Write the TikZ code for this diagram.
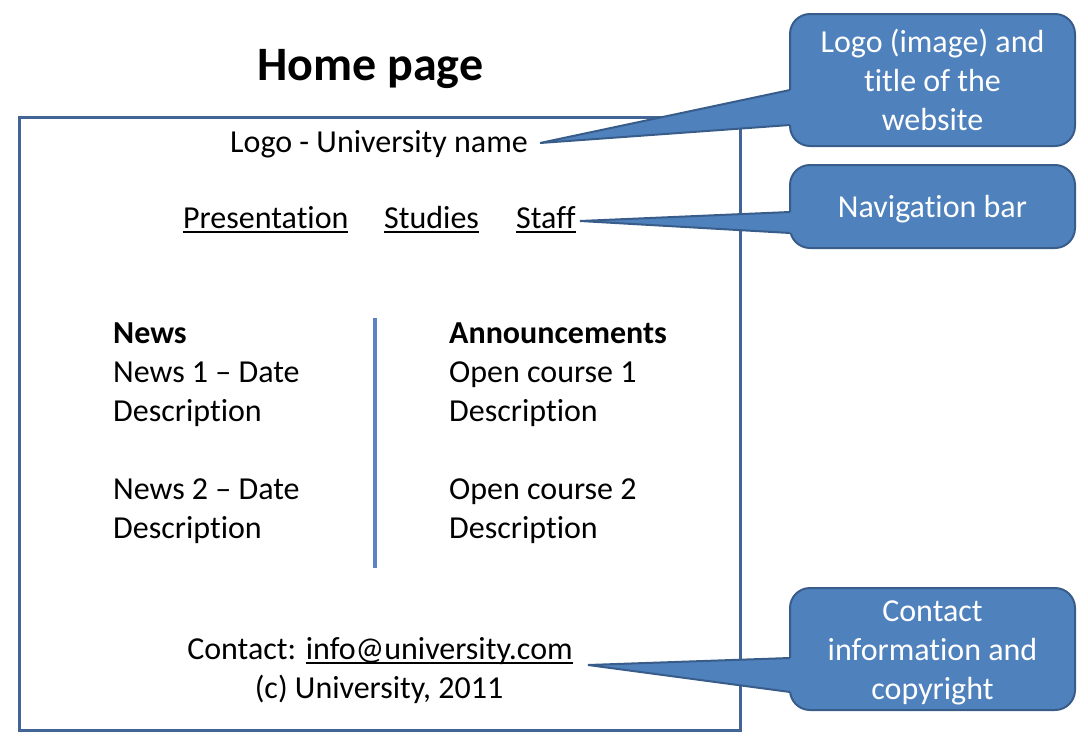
\documentclass[tikz,border=0pt]{standalone}
\usepackage{fontspec}
\setmainfont{Carlito}[RawFeature={-liga;-clig;-calt;-dlig}]
\definecolor{cofill}{RGB}{79,129,189}
\definecolor{costroke}{RGB}{56,93,138}
\definecolor{pageframe}{RGB}{66,101,150}
\definecolor{divider}{RGB}{91,130,196}
\newcommand\myul[1]{\setbox0\hbox{#1}\rlap{\rule[-5pt]{\wd0}{1.8pt}}\box0}
\newcommand\colines[2]{\raisebox{#1}[\height][\depth]{\begin{tabular}{@{}c@{}}#2\end{tabular}}}
\tikzset{
  body/.style={font=\fontsize{32}{39}\selectfont, inner sep=0pt, text=black},
  colhead/.style={body, font=\fontsize{32}{39}\selectfont\bfseries},
  cobox/.style={fill=cofill, draw=costroke, line width=2pt, rounded corners=20pt,
     text=white, align=center, inner sep=0pt,
     font=\fontsize{32}{39}\selectfont},
  wedgefill/.style={fill=cofill, draw=none},
  wedgeedge/.style={draw=costroke, line width=2pt, line join=miter}
}
\begin{document}
\begin{tikzpicture}[x=1pt,y=-1pt]
\useasboundingbox (0,0) rectangle (1088,744);
% title
\node[anchor=base west, inner sep=0pt, font=\fontsize{48}{56}\selectfont\bfseries] (title) at (257,80) {Home page};
% page frame
\draw[pageframe, line width=3pt] (19,117) rectangle (740,730);
% divider
\coordinate (dtop) at (375,318);
\coordinate (dbot) at (375,568);
\draw[divider, line width=4pt] (dtop) -- (dbot);
% header
\node[body, anchor=base] (logo) at (379,152) {Logo - University name};
\node[body, anchor=base west] (nav1) at (183,228) {\myul{Presentation}};
\node[body, anchor=base west] (nav2) at (384,228) {\myul{Studies}};
\node[body, anchor=base west] (nav3) at (516,228) {\myul{Staff}};
% news column
\node[colhead, anchor=base west] (newsh) at (113,343) {News};
\node[body, anchor=base west] (n1) at (113,382) {News 1 – Date};
\node[body, anchor=base west] (n1d) at (113,421) {Description};
\node[body, anchor=base west] (n2) at (113,499) {News 2 – Date};
\node[body, anchor=base west] (n2d) at (113,538) {Description};
% announcements column
\node[colhead, anchor=base west] (annh) at (449,343) {Announcements};
\node[body, anchor=base west] (a1) at (449,382) {Open course 1};
\node[body, anchor=base west] (a1d) at (449,421) {Description};
\node[body, anchor=base west] (a2) at (449,499) {Open course 2};
\node[body, anchor=base west] (a2d) at (449,538) {Description};
% footer
\node[body, anchor=base] (contact) at (380,659) {Contact: \myul{info@university.com}};
\node[body, anchor=base] (copy) at (379,698) {(c) University, 2011};
% callout 1
\coordinate (t1) at (540,143);
\coordinate (u1) at (790,90);
\coordinate (v1) at (790,125);
\fill[wedgefill] (u1) -- (t1) -- (v1) -- cycle;
\node[cobox, minimum width=285pt, minimum height=132pt] (c1) at (932.5,80) {Logo (image) and\\title of the\\website};
\fill[wedgefill] (u1) -- (t1) -- (v1) -- ([xshift=5pt]v1) -- ([xshift=5pt]u1) -- cycle;
\draw[wedgeedge] (u1) -- (t1) -- (v1);
% callout 2
\coordinate (t2) at (580,221);
\coordinate (u2) at (790,212);
\coordinate (v2) at (790,233);
\fill[wedgefill] (u2) -- (t2) -- (v2) -- cycle;
\node[cobox, minimum width=285pt, minimum height=83pt] (c2) at (932.5,206.5) {\colines{-3pt}{Navigation bar}};
\fill[wedgefill] (u2) -- (t2) -- (v2) -- ([xshift=5pt]v2) -- ([xshift=5pt]u2) -- cycle;
\draw[wedgeedge] (u2) -- (t2) -- (v2);
% callout 3
\coordinate (t3) at (588,665);
\coordinate (u3) at (790,658);
\coordinate (v3) at (790,692);
\fill[wedgefill] (u3) -- (t3) -- (v3) -- cycle;
\node[cobox, minimum width=285pt, minimum height=122pt] (c3) at (932.5,649) {\colines{-4pt}{Contact\\information and\\copyright}};
\fill[wedgefill] (u3) -- (t3) -- (v3) -- ([xshift=5pt]v3) -- ([xshift=5pt]u3) -- cycle;
\draw[wedgeedge] (u3) -- (t3) -- (v3);
\end{tikzpicture}
\end{document}
